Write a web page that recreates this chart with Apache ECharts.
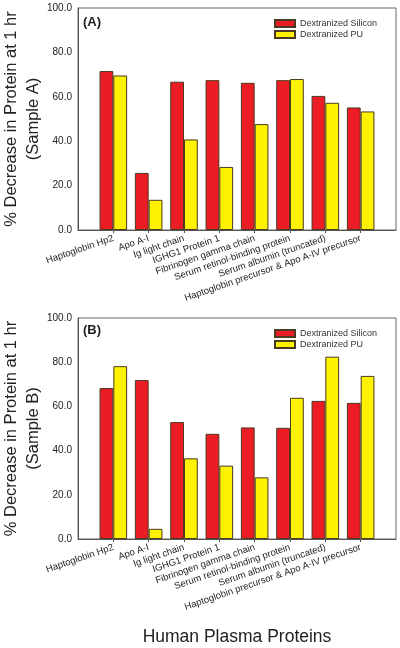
<!DOCTYPE html>
<html><head><meta charset="utf-8">
<script src="https://cdn.jsdelivr.net/npm/echarts@6/dist/echarts.min.js"></script>
<style>html,body{margin:0;padding:0;background:#fff}#c{width:400px;height:648px}</style>
</head><body><div id="c"></div>
<script>
const categories = ['Haptoglobin Hp2','Apo A-I','Ig light chain','IGHG1 Protein 1','Fibrinogen gamma chain','Serum retinol-binding protein','Serum albumin (truncated)','Haptoglobin precursor & Apo A-IV precursor'];
const siliconA = [71.6, 25.7, 66.8, 67.5, 66.3, 67.5, 60.4, 55.2];
const puA      = [69.6, 13.6, 40.8, 28.4, 47.7, 68.0, 57.3, 53.4];
const siliconB = [68.3, 71.9, 52.9, 47.6, 50.5, 50.3, 62.5, 61.6];
const puB      = [78.2, 4.6, 36.5, 33.2, 27.9, 63.9, 82.5, 73.8];
const yTicks = {min:0, max:100, interval:20};
const seriesNames = ['Dextranized Silicon','Dextranized PU'];
const panelLabels = ['(A)','(B)'];
const yTitles = ['% Decrease in Protein at 1 hr\n(Sample A)','% Decrease in Protein at 1 hr\n(Sample B)'];
const xTitle = 'Human Plasma Proteins';

const RED = '#EC1C24', YEL = '#FFF200', EDGE = '#4a3a20';
const font = 'Liberation Sans, Arial, sans-serif';
const grids = [{left:78,right:4,top:8,height:222},{left:78,right:4,top:318,height:221}];
// padded axis: half-band empty space at both ends (as in the original plot)
const axisCats = [''].concat(categories, ['']);
const pad = arr => [null].concat(arr, [null]);

function xAx(i){return {type:'category',gridIndex:i,data:axisCats,boundaryGap:false,
  axisLine:{lineStyle:{color:'#555',width:1}},
  axisTick:{length:3,lineStyle:{color:'#555'},interval:(idx,val)=>val!==''},
  axisLabel:{rotate:19,fontSize:9.5,color:'#222',fontFamily:font,margin:8,interval:0}};}
function yAx(i){return {type:'value',gridIndex:i,min:yTicks.min,max:yTicks.max,interval:yTicks.interval,
  name:yTitles[i],nameLocation:'middle',nameGap:34,nameMoveOverlap:false,
  nameTextStyle:{fontSize:16.5,color:'#222',fontFamily:font,lineHeight:21.5},
  axisLine:{show:true,lineStyle:{color:'#555'}},axisTick:{show:false},
  splitLine:{show:false},
  axisLabel:{formatter:v=>v.toFixed(1),fontSize:10,color:'#222',fontFamily:font,margin:6}};}
function bar(name,data,i,color){return {type:'bar',name,data:pad(data),xAxisIndex:i,yAxisIndex:i,
  barGap:'0%',barCategoryGap:'22%',
  itemStyle:{color,borderColor:EDGE,borderWidth:1}};}

const chart = echarts.init(document.getElementById('c'),null,{renderer:'canvas'});
chart.setOption({
  animation:false,
  grid:grids.map(g=>Object.assign({show:true,borderColor:'#666',borderWidth:1,backgroundColor:'transparent',containLabel:false,outerBoundsMode:'none'},g)),
  xAxis:[xAx(0),xAx(1)],
  yAxis:[yAx(0),yAx(1)],
  legend:[0,1].map(i=>({data:seriesNames,orient:'vertical',left:274,top:grids[i].top+11,padding:0,
    itemWidth:20,itemHeight:7,itemGap:2,icon:'rect',
    textStyle:{fontSize:9,color:'#333',fontFamily:font}})),
  title:[
    {text:panelLabels[0],left:83,top:16,padding:0,textStyle:{fontSize:13,fontWeight:'bold',color:'#222',fontFamily:font}},
    {text:panelLabels[1],left:83,top:324,padding:0,textStyle:{fontSize:13,fontWeight:'bold',color:'#222',fontFamily:font}},
    {text:xTitle,left:237,textAlign:'center',top:628,padding:0,textStyle:{fontSize:17.5,fontWeight:'normal',color:'#222',fontFamily:font}}
  ],
  series:[bar(seriesNames[0],siliconA,0,RED),bar(seriesNames[1],puA,0,YEL),
          bar(seriesNames[0],siliconB,1,RED),bar(seriesNames[1],puB,1,YEL)]
});
</script></body></html>
